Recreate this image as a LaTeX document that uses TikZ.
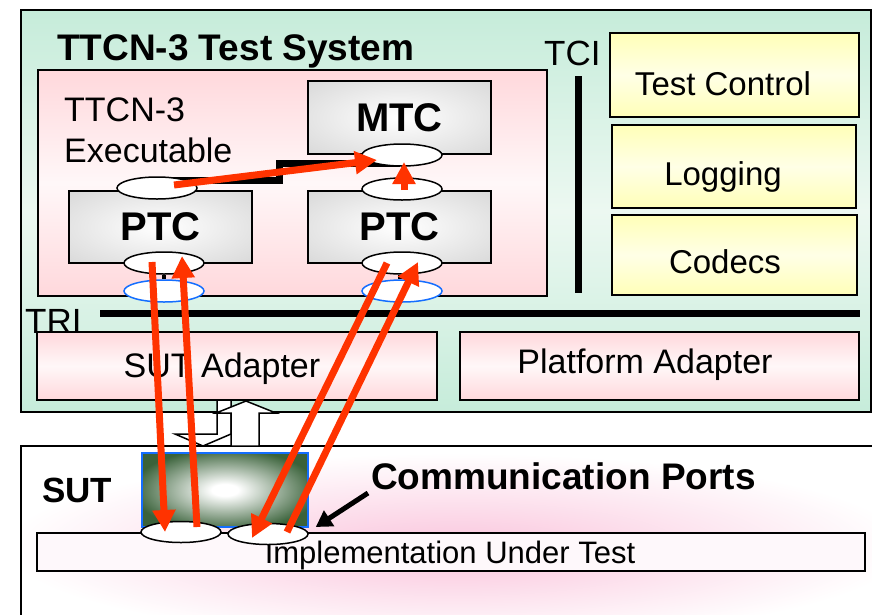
\documentclass[tikz,border=0pt]{standalone}
\usepackage{fontspec}
\setmainfont{Liberation Sans}
\usepackage{tikz}
\usetikzlibrary{shapes,arrows.meta,positioning,calc}
\definecolor{mintgreen}{RGB}{198,236,218}
\definecolor{palegreen}{RGB}{236,248,241}
\definecolor{rosepink}{RGB}{255,216,220}
\definecolor{paleyellow}{RGB}{255,255,184}
\definecolor{boxgray}{RGB}{212,212,212}
\definecolor{brightred}{RGB}{255,51,0}
\definecolor{darkmoss}{RGB}{58,98,58}
\definecolor{portblue}{RGB}{20,110,255}
\definecolor{glowpink}{RGB}{250,196,220}
\pgfdeclareradialshading{grayglow}{\pgfpoint{0bp}{0bp}}{color(0bp)=(white); color(12bp)=(white!70!boxgray); color(40bp)=(boxgray); color(100bp)=(boxgray)}
\pgfdeclareradialshading{mossglow}{\pgfpoint{0bp}{0bp}}{color(0bp)=(white); color(4bp)=(white); color(28bp)=(darkmoss); color(100bp)=(darkmoss)}
\pgfdeclareradialshading{pinkglow}{\pgfpoint{0bp}{-4bp}}{color(0bp)=(glowpink); color(8bp)=(glowpink!70!white); color(26bp)=(white); color(100bp)=(white)}
\tikzset{
  panelbox/.style={draw=black,line width=1.5pt,inner sep=0pt,outer sep=0pt},
  pinkbox/.style={panelbox,top color=rosepink,bottom color=rosepink,middle color=rosepink!20},
  yellowbox/.style={panelbox,top color=paleyellow,bottom color=paleyellow,middle color=paleyellow!35},
  compbox/.style={panelbox,shading=grayglow,minimum width=183pt,font=\bfseries\fontsize{40}{44}\selectfont},
  portoval/.style={ellipse,draw=black,fill=white,line width=1.5pt,minimum width=80pt,minimum height=22pt,inner sep=0pt},
  tsioval/.style={portoval,draw=portblue},
  ifbar/.style={draw=black,line width=7pt},
  connbar/.style={draw=black,line width=7pt,line join=miter},
  tick/.style={draw=black,line width=4pt},
  msgarrow/.style={draw=brightred,line width=7pt,-{Triangle[length=22pt,width=22pt]}},
  callout/.style={draw=black,line width=5pt,-{Triangle[length=16pt,width=18pt]}},
  blockarrow/.style={draw=black,fill=white,line width=1.5pt,line join=miter},
  plaintext/.style={inner sep=0pt,font=\fontsize{34}{41}\selectfont},
  boldtext/.style={inner sep=0pt,font=\bfseries\fontsize{36}{40}\selectfont}
}
\begin{document}
\begin{tikzpicture}[x=1pt,y=-1pt]
\useasboundingbox (0,0) rectangle (872,614);
\node[panelbox,top color=mintgreen,bottom color=mintgreen,middle color=palegreen,minimum width=850pt,minimum height=402pt] (tsys) at (446,211) {};
\node[panelbox,shading=pinkglow,minimum width=870pt,minimum height=180pt] (sut) at (456,536) {};

\node[boldtext,anchor=base west,font=\bfseries\fontsize{37}{42}\selectfont] (title) at (57,60) {TTCN-3 Test System};
\node[pinkbox,minimum width=509pt,minimum height=226pt] (exec) at (292.5,183) {};
\node[plaintext,anchor=north west,align=left] (execlabel) at (64,98) {TTCN-3\\Executable};
\node[compbox,minimum height=73pt] (mtc) at (399.5,117.5) {MTC};
\node[compbox,minimum height=72pt] (ptcA) at (160.5,227) {PTC};
\node[compbox,minimum height=72pt] (ptcB) at (399.5,227) {PTC};
\draw[connbar] ([yshift=11pt]ptcA.north) -- ++(118.5,0) |- ([yshift=-9pt]mtc.south);

\node[portoval] (mtcport) at (402,155) {};
\node[portoval] (ptcBup) at (402,189) {};
\node[portoval] (ptcAup) at (157,188) {};
\node[portoval] (ptcAdown) at (164,263) {};
\node[portoval] (ptcBdown) at (402,263) {};
\node[tsioval] (tsiA) at (164,291) {};
\node[tsioval] (tsiB) at (402,291) {};
\draw[tick] (ptcAdown.south) -- (tsiA.north);
\draw[tick] ([xshift=-2pt]ptcBdown.south) -- ([xshift=-2pt]tsiB.north);

\node[plaintext,anchor=base west,font=\fontsize{35}{40}\selectfont] (tcilabel) at (544,65) {TCI};
\draw[ifbar] (578,76) -- (578,293);
\node[yellowbox,minimum width=249pt,minimum height=84pt] (control) at (734.5,75) {};
\node[yellowbox,minimum width=244pt,minimum height=83pt] (logging) at (734,166.5) {};
\node[yellowbox,minimum width=245pt,minimum height=80pt] (codecs) at (734.5,255) {};
\node[plaintext,anchor=base,font=\fontsize{33}{38}\selectfont] (controllabel) at (723,95) {Test Control};
\node[plaintext,anchor=base,font=\fontsize{33}{38}\selectfont] (logginglabel) at (723,185) {Logging};
\node[plaintext,anchor=base,font=\fontsize{33}{38}\selectfont] (codecslabel) at (725,273) {Codecs};

\node[plaintext,anchor=base west,font=\fontsize{35}{40}\selectfont] (trilabel) at (25,333) {TRI};
\draw[ifbar] (100,313) -- (860,313);
\node[pinkbox,minimum width=400pt,minimum height=68pt] (sa) at (237,366) {};
\node[pinkbox,minimum width=399pt,minimum height=68pt] (pa) at (659.5,366) {};
\node[plaintext,anchor=base] (salabel) at (222,377) {SUT Adapter};
\node[plaintext,anchor=base] (palabel) at (645,373) {Platform Adapter};

\draw[blockarrow] (217,400) -- (217,434) -- (175,434) -- (203,446) -- (231,434) -- (231,400) -- cycle;
\draw[blockarrow] (231,446) -- (231,413) -- (216,413) -- (246,401) -- (276,413) -- (259,413) -- (259,446) -- cycle;

\node[boldtext,anchor=base west,font=\bfseries\fontsize{35}{40}\selectfont] (sutlabel) at (42,502) {SUT};
\node[panelbox,draw=portblue,shading=mossglow,minimum width=166pt,minimum height=74pt] (sutlink) at (225,490) {};
\node[panelbox,fill=glowpink!12,minimum width=828pt,minimum height=38pt] (iut) at (451,552) {};
\node[plaintext,anchor=base,font=\fontsize{31}{36}\selectfont] (iutlabel) at (450,563) {Implementation Under Test};
\node[portoval,minimum height=21pt] (iutportA) at (181,532) {};
\node[portoval,minimum height=21pt] (iutportB) at (268,534) {};
\node[boldtext,anchor=base west,font=\bfseries\fontsize{37}{42}\selectfont] (commlabel) at (371,489) {Communication Ports};
\draw[callout] ([shift={(-3,4)}]commlabel.base west) -- ([shift={(7,-7)}]iutportB.east);

\draw[msgarrow] ([shift={(17,-3)}]ptcAup.center) -- ([shift={(-25,5)}]mtcport.center);
\draw[msgarrow] ([shift={(2,1)}]ptcBup.center) -- ([shift={(2,7)}]mtcport.center);
\draw[msgarrow] ([shift={(-12,-1)}]ptcAdown.center) -- ([shift={(-16,0)}]iutportA.center);
\draw[msgarrow] ([shift={(16,-5)}]iutportA.center) -- ([shift={(18,-7)}]ptcAdown.center);
\draw[msgarrow] ([shift={(-15,0)}]ptcBdown.center) -- ([shift={(-16,4)}]iutportB.center);
\draw[msgarrow] ([shift={(19,-2)}]iutportB.center) -- ([shift={(16,-1)}]ptcBdown.center);
\end{tikzpicture}
\end{document}
